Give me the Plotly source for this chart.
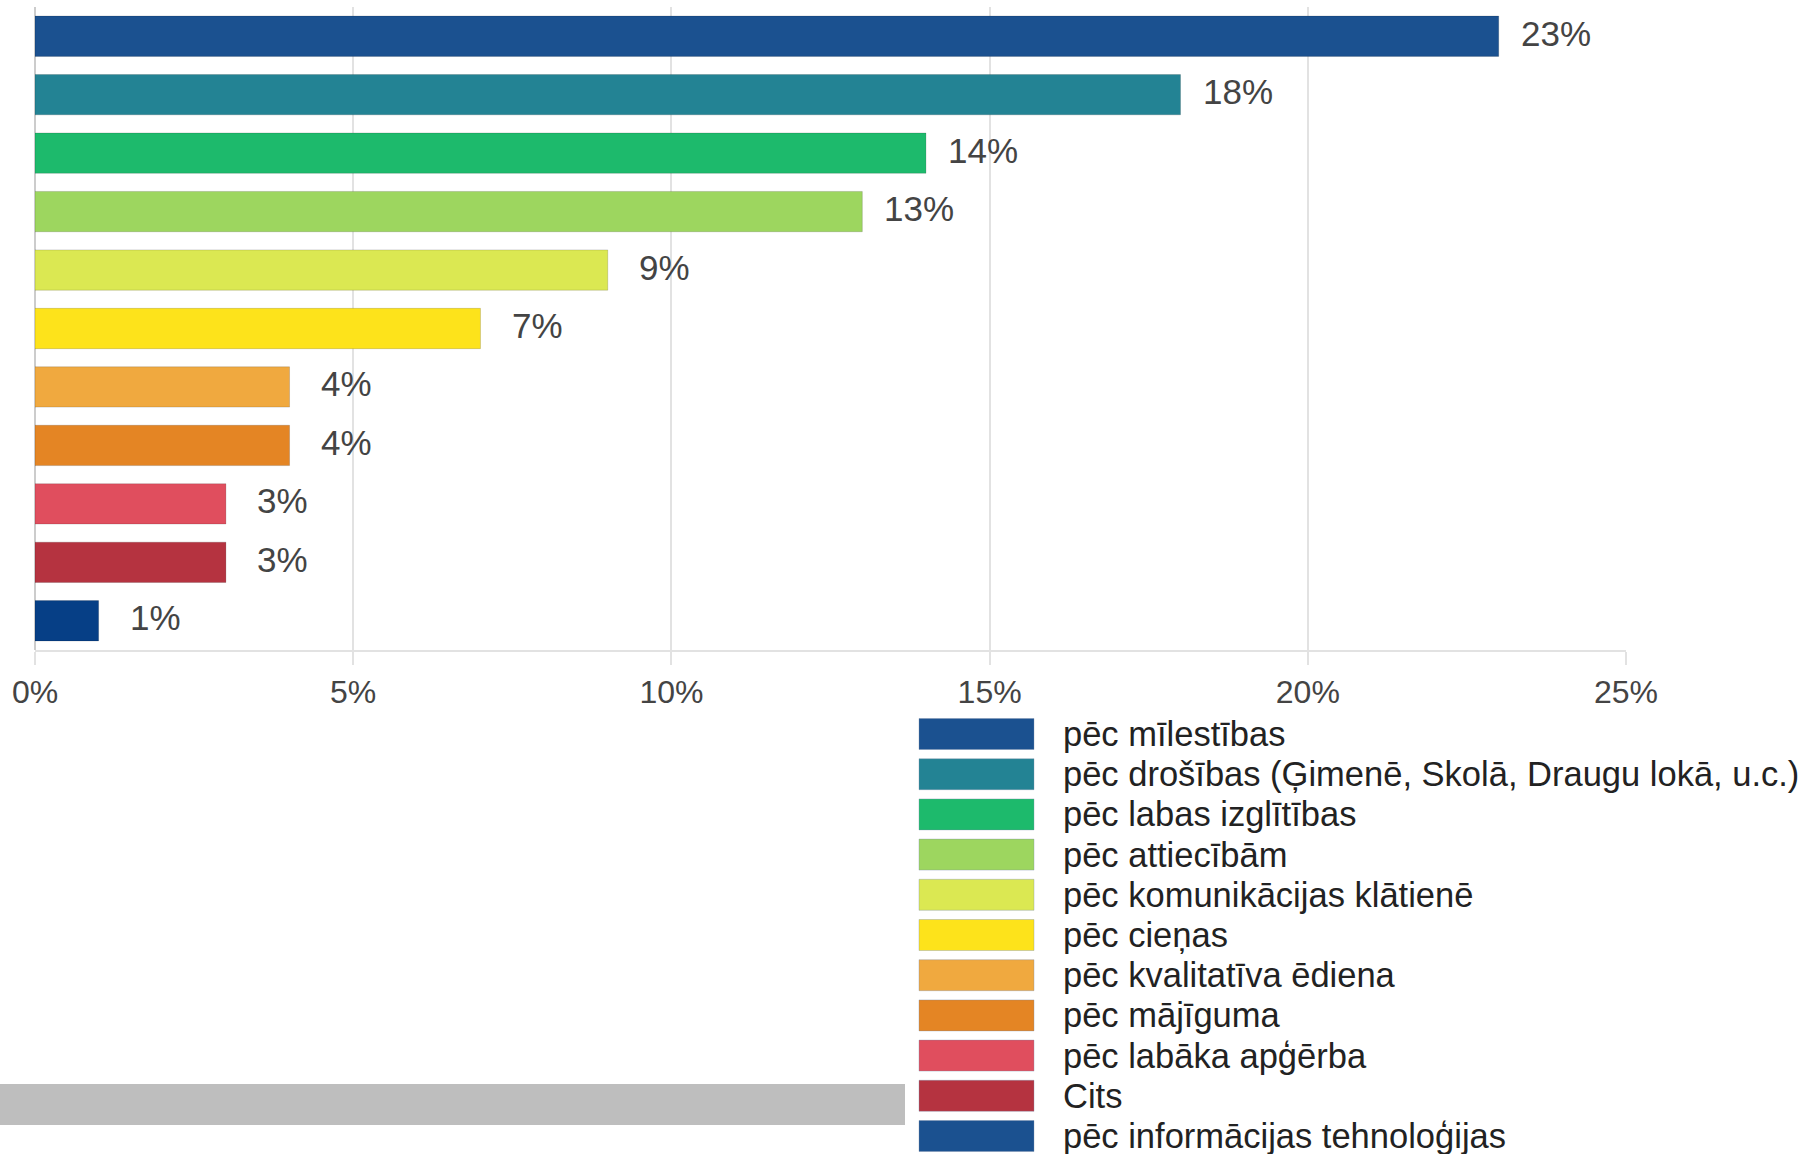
import plotly.graph_objects as go

categories = [
    "pēc mīlestības",
    "pēc drošības (Ģimenē, Skolā, Draugu lokā, u.c.)",
    "pēc labas izglītības",
    "pēc attiecībām",
    "pēc komunikācijas klātienē",
    "pēc cieņas",
    "pēc kvalitatīva ēdiena",
    "pēc mājīguma",
    "pēc labāka apģērba",
    "Cits",
    "pēc informācijas tehnoloģijas",
]
values = [23, 18, 14, 13, 9, 7, 4, 4, 3, 3, 1]
value_labels = ["23%", "18%", "14%", "13%", "9%", "7%", "4%", "4%", "3%", "3%", "1%"]
bar_colors = ["#1b5190", "#238394", "#1dba6c", "#9dd65f", "#dbe852", "#fde31b",
              "#f0a93f", "#e48524", "#e04e5e", "#b53340", "#063f86"]
legend_colors = ["#1b5190", "#238394", "#1dba6c", "#9dd65f", "#dbe852", "#fde31b",
                 "#f0a93f", "#e48524", "#e04e5e", "#b53340", "#1b5190"]
tick_vals = [0, 5, 10, 15, 20, 25]
tick_text = ["0%", "5%", "10%", "15%", "20%", "25%"]

W, H = 1806, 1154
FONT = "Liberation Sans, Arial, sans-serif"

def px_x(p):
    return p / W

def px_y(p):
    return 1 - p / H

fig = go.Figure()
fig.add_trace(go.Bar(
    x=values, y=categories, orientation="h",
    marker=dict(color=bar_colors, line=dict(width=1, color="rgba(0,0,0,0.15)")),
    showlegend=False, hoverinfo="x+y",
))

annotations = []
for c, v, t in zip(categories, values, value_labels):
    annotations.append(dict(x=v, y=c, xref="x", yref="y", text=t, showarrow=False,
                            xanchor="center", yanchor="middle", xshift=57, yshift=3,
                            font=dict(family=FONT, size=35, color="#444444")))

shapes = []
row0 = 734.0
step = 40.2
for i, (name, col) in enumerate(zip(categories, legend_colors)):
    cy = row0 + i * step
    shapes.append(dict(type="rect", xref="paper", yref="paper",
                       x0=px_x(919), x1=px_x(1034), y0=px_y(cy + 15.5), y1=px_y(cy - 15.5),
                       fillcolor=col, line=dict(width=1, color="rgba(120,140,170,0.35)")))
    annotations.append(dict(x=px_x(1061), y=px_y(cy), xref="paper", yref="paper",
                            text=name, showarrow=False, xanchor="left", yanchor="middle",
                            font=dict(family=FONT, size=34.5, color="#222222")))

# grey strip at bottom-left
shapes.append(dict(type="rect", xref="paper", yref="paper",
                   x0=0, x1=px_x(905), y0=px_y(1125), y1=px_y(1084),
                   fillcolor="#bebebe", line=dict(width=0)))

fig.update_layout(
    width=W, height=H, autosize=False,
    margin=dict(l=0, r=0, t=0, b=0, autoexpand=False),
    paper_bgcolor="white", plot_bgcolor="white",
    bargap=0.31,
    xaxis=dict(domain=[px_x(35), px_x(1626)], range=[0, 25], tickvals=tick_vals, ticktext=tick_text,
               automargin=False,
               showgrid=True, gridcolor="#e2e2e2", gridwidth=2,
               zeroline=True, zerolinecolor="#cccccc", zerolinewidth=2,
               showline=True, linecolor="#e2e2e2", linewidth=2,
               ticks="outside", ticklen=13, tickcolor="#e2e2e2", tickwidth=2,
               tickfont=dict(family=FONT, size=32, color="#444444")),
    yaxis=dict(domain=[px_y(650), px_y(7)], autorange="reversed", showticklabels=False,
               automargin=False, showgrid=False, zeroline=False, ticks=""),
    annotations=annotations,
    shapes=shapes,
)

fig.write_html("out.html", config={"displayModeBar": False},
               post_script="document.body.style.margin='0';document.body.style.overflow='hidden';")
